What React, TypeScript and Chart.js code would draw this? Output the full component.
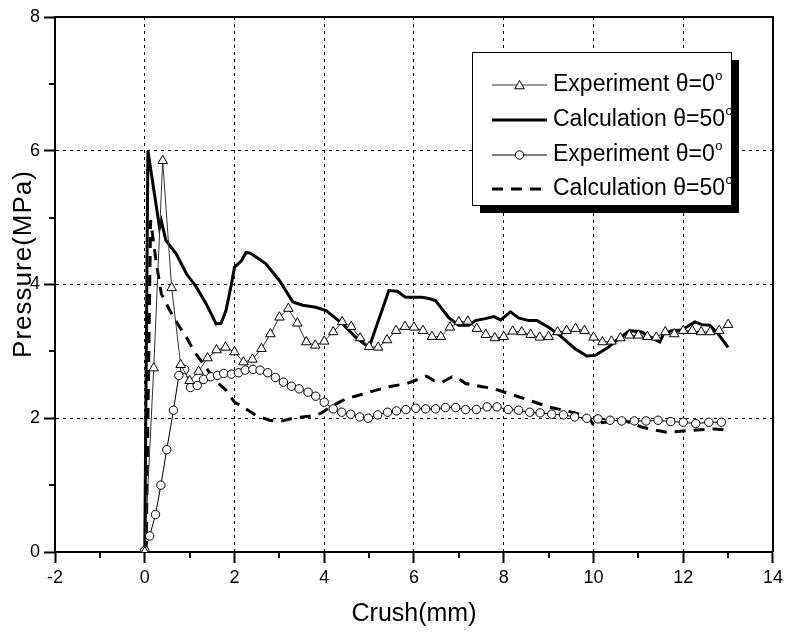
import React, { useEffect, useRef } from "react";
import { Chart, registerables } from "chart.js";

Chart.register(...registerables);

// ---------------- data ----------------
const EXP_TRI_X = [
  0, 0.2, 0.4, 0.6, 0.8, 1.0, 1.2, 1.4, 1.6, 1.8, 2.0, 2.2, 2.4, 2.6, 2.8, 3.0, 3.2, 3.4, 3.6, 3.8,
  4.0, 4.2, 4.4, 4.6, 4.8, 5.0, 5.2, 5.4, 5.6, 5.8, 6.0, 6.2, 6.4, 6.6, 6.8, 7.0, 7.2, 7.4, 7.6, 7.8,
  8.0, 8.2, 8.4, 8.6, 8.8, 9.0, 9.2, 9.4, 9.6, 9.8, 10.0, 10.2, 10.4, 10.6, 10.8, 11.0, 11.2, 11.4,
  11.6, 11.8, 12.0, 12.2, 12.4, 12.6, 12.8, 13.0,
];
const EXP_TRI_Y = [
  0, 2.75, 5.85, 3.95, 2.8, 2.56, 2.7, 2.9, 3.02, 3.06, 2.99, 2.84, 2.88, 3.04, 3.26, 3.51, 3.64, 3.42, 3.14, 3.09,
  3.15, 3.29, 3.44, 3.37, 3.2, 3.07, 3.06, 3.17, 3.31, 3.37, 3.36, 3.31, 3.22, 3.22, 3.36, 3.44, 3.45, 3.34, 3.25, 3.2,
  3.22, 3.3, 3.29, 3.25, 3.21, 3.22, 3.29, 3.31, 3.34, 3.31, 3.21, 3.14, 3.15, 3.2, 3.24, 3.24, 3.22, 3.21,
  3.29, 3.26, 3.31, 3.31, 3.29, 3.29, 3.31, 3.4,
];

const CALC_SOLID_X = [
  0, 0.07, 0.33, 0.37, 0.47, 0.7, 0.93, 1.15, 1.37, 1.59, 1.7, 1.81, 1.93, 2.0, 2.15, 2.26, 2.35, 2.48, 2.7, 3.0,
  3.3, 3.52, 3.81, 4.04, 4.41, 4.7, 5.0, 5.44, 5.63, 5.81, 6.18, 6.33, 6.48, 6.78, 7.0, 7.22, 7.37, 7.59, 7.78, 7.93,
  8.15, 8.33, 8.56, 8.74, 9.0, 9.3, 9.59, 9.85, 10.04, 10.33, 10.56, 10.81, 11.07, 11.33, 11.48, 11.56, 11.74, 11.96,
  12.26, 12.41, 12.59, 12.78, 13.0,
];
const CALC_SOLID_Y = [
  0, 6.0, 4.85, 4.95, 4.66, 4.46, 4.16, 3.96, 3.71, 3.41, 3.42, 3.61, 4.0, 4.26, 4.35, 4.48, 4.47, 4.41, 4.31, 4.06,
  3.74, 3.69, 3.66, 3.61, 3.41, 3.21, 3.06, 3.91, 3.9, 3.81, 3.81, 3.79, 3.76, 3.5, 3.39, 3.39, 3.46, 3.49, 3.52, 3.47,
  3.59, 3.5, 3.46, 3.46, 3.36, 3.21, 3.04, 2.93, 2.94, 3.06, 3.19, 3.31, 3.29, 3.19, 3.14, 3.26, 3.31, 3.32,
  3.44, 3.4, 3.39, 3.26, 3.06,
];

const EXP_CIRC_X = [
  0, 0.11, 0.24, 0.36, 0.49, 0.64, 0.76, 0.89, 1.02, 1.17, 1.31, 1.47, 1.62, 1.76, 1.93, 2.09, 2.24, 2.41, 2.57, 2.74,
  2.91, 3.09, 3.27, 3.44, 3.64, 3.81, 4.0, 4.2, 4.39, 4.59, 4.79, 4.98, 5.19, 5.41, 5.61, 5.82, 6.04, 6.26, 6.48, 6.7,
  6.93, 7.15, 7.39, 7.63, 7.85, 8.1, 8.33, 8.58, 8.81, 9.07, 9.33, 9.58, 9.85, 10.1, 10.37, 10.63, 10.91, 11.17, 11.44,
  11.72, 12.0, 12.28, 12.57, 12.85,
];
const EXP_CIRC_Y = [
  0.02, 0.24, 0.56, 1.0, 1.53, 2.12, 2.64, 2.73, 2.46, 2.49, 2.58, 2.62, 2.64, 2.67, 2.66, 2.68, 2.72, 2.73, 2.72, 2.68,
  2.61, 2.54, 2.48, 2.44, 2.39, 2.33, 2.24, 2.14, 2.09, 2.06, 2.02, 2.0, 2.05, 2.09, 2.11, 2.13, 2.15, 2.14, 2.14, 2.16,
  2.16, 2.13, 2.13, 2.17, 2.17, 2.13, 2.12, 2.09, 2.08, 2.06, 2.05, 2.02, 2.0, 1.99, 1.97, 1.96, 1.96, 1.96, 1.97,
  1.95, 1.94, 1.92, 1.94, 1.94,
];

const CALC_DASH_X = [
  0.03, 0.13, 0.26, 0.37, 0.56, 0.78, 0.93, 1.11, 1.3, 1.56, 1.81, 2.0, 2.26, 2.48, 2.78, 3.0, 3.3, 3.52, 3.81, 3.96,
  4.19, 4.48, 4.75, 5.1, 5.44, 5.85, 6.28, 6.45, 6.63, 6.85, 7.0, 7.15, 7.52, 7.74, 8.11, 8.56, 9.0, 9.59, 9.89, 10.0,
  10.1, 10.26, 10.63, 11.07, 11.4, 11.63, 12.19, 12.71, 13.0,
];
const CALC_DASH_Y = [
  0, 4.96, 4.31, 3.86, 3.61, 3.36, 3.21, 2.99, 2.82, 2.57, 2.42, 2.24, 2.14, 2.04, 1.97, 1.95, 2.0, 2.02, 2.04, 2.09,
  2.19, 2.29, 2.34, 2.41, 2.47, 2.52, 2.63, 2.56, 2.54, 2.62, 2.59, 2.52, 2.47, 2.45, 2.37, 2.27, 2.17, 2.08, 2.02, 1.9,
  1.93, 1.94, 1.98, 1.87, 1.82, 1.79, 1.82, 1.84, 1.82,
];

const SERIES_LABELS = ["Experiment θ=0°", "Calculation θ=50°", "Experiment θ=0°", "Calculation θ=50°"];
const X_TITLE = "Crush(mm)";
const Y_TITLE = "Pressure(MPa)";
const X_MIN = -2;
const X_MAX = 14;
const X_STEP = 2;
const Y_MIN = 0;
const Y_MAX = 8;
const Y_STEP = 2;
const X_MINOR = [-1, 1, 3, 5, 7, 9, 11, 13];
const Y_MINOR = [1, 3, 5, 7];

const FONT = "'Liberation Sans', Arial, Helvetica, sans-serif";

const toPts = (xs: number[], ys: number[]) => xs.map((x, i) => ({ x, y: ys[i] }));

function drawTriangle(ctx: CanvasRenderingContext2D, x: number, y: number, r: number) {
  ctx.beginPath();
  let a = 0;
  ctx.moveTo(x + Math.sin(a) * r, y - Math.cos(a) * r);
  a += (2 * Math.PI) / 3;
  ctx.lineTo(x + Math.sin(a) * r, y - Math.cos(a) * r);
  a += (2 * Math.PI) / 3;
  ctx.lineTo(x + Math.sin(a) * r, y - Math.cos(a) * r);
  ctx.closePath();
  ctx.fill();
  ctx.stroke();
}

const decorPlugin = {
  id: "decor",
  afterDraw(chart: any) {
    const { ctx, chartArea: ca, scales } = chart;
    const xs = scales.x;
    const ys = scales.y;
    ctx.save();
    ctx.strokeStyle = "#000";
    ctx.lineWidth = 2;
    ctx.setLineDash([]);
    // top / right frame
    ctx.beginPath();
    ctx.moveTo(ca.left - 1, ca.top);
    ctx.lineTo(ca.right, ca.top);
    ctx.lineTo(ca.right, ca.bottom);
    ctx.stroke();
    // minor ticks
    ctx.beginPath();
    X_MINOR.forEach((v) => {
      const p = Math.round(xs.getPixelForValue(v));
      ctx.moveTo(p, ca.bottom);
      ctx.lineTo(p, ca.bottom + 6);
    });
    Y_MINOR.forEach((v) => {
      const p = Math.round(ys.getPixelForValue(v));
      ctx.moveTo(ca.left - 6, p);
      ctx.lineTo(ca.left, p);
    });
    ctx.stroke();

    // axis titles
    ctx.fillStyle = "#000";
    ctx.textAlign = "center";
    ctx.textBaseline = "middle";
    ctx.font = `25px ${FONT}`;
    ctx.fillText(X_TITLE, (ca.left + ca.right) / 2, 614);
    ctx.save();
    ctx.translate(24, 264);
    ctx.rotate(-Math.PI / 2);
    ctx.font = `26px ${FONT}`;
    try {
      (ctx as any).letterSpacing = "1px";
    } catch (e) {}
    ctx.fillText(Y_TITLE, 0, 0);
    ctx.restore();

    // legend
    const bx = 472, by = 52, bw = 259, bh = 153;
    ctx.fillStyle = "#000";
    ctx.fillRect(bx + 8, by + 8, bw, bh);
    ctx.fillStyle = "#fff";
    ctx.fillRect(bx, by, bw, bh);
    ctx.lineWidth = 1;
    ctx.strokeStyle = "#000";
    ctx.strokeRect(bx + 0.5, by + 0.5, bw, bh);

    const rows = [85, 120, 155, 189];
    const x0 = 492, x1 = 547, tx = 553;
    chart.data.datasets.forEach((ds: any, i: number) => {
      const y = rows[i];
      ctx.save();
      ctx.strokeStyle = ds.borderColor;
      ctx.lineWidth = ds.borderWidth;
      ctx.setLineDash(ds.borderDash || []);
      ctx.beginPath();
      ctx.moveTo(x0, y);
      ctx.lineTo(x1, y);
      ctx.stroke();
      ctx.setLineDash([]);
      ctx.lineWidth = 1;
      ctx.strokeStyle = "#000";
      ctx.fillStyle = "#fff";
      const cx = (x0 + x1) / 2;
      if (ds.pointStyle === "triangle") {
        drawTriangle(ctx, cx, y + 1, ds.pointRadius);
      } else if (ds.pointRadius > 0) {
        ctx.beginPath();
        ctx.arc(cx, y, ds.pointRadius, 0, Math.PI * 2);
        ctx.fill();
        ctx.stroke();
      }
      ctx.restore();

      const label: string = ds.label;
      const hasDeg = label.endsWith("°");
      const base = hasDeg ? label.slice(0, -1) : label;
      ctx.fillStyle = "#000";
      ctx.textAlign = "left";
      ctx.textBaseline = "middle";
      ctx.font = `23px ${FONT}`;
      ctx.fillText(base, tx, y);
      if (hasDeg) {
        const w = ctx.measureText(base).width;
        ctx.font = `13px ${FONT}`;
        ctx.fillText("o", tx + w + 0.5, y - 9);
      }
    });
    ctx.restore();
  },
};

export default function App() {
  const ref = useRef<HTMLCanvasElement | null>(null);

  useEffect(() => {
    if (!ref.current) return;
    const chart = new Chart(ref.current, {
      type: "line",
      data: {
        datasets: [
          {
            label: SERIES_LABELS[0],
            data: toPts(EXP_TRI_X, EXP_TRI_Y),
            borderColor: "#333",
            borderWidth: 1,
            pointStyle: "triangle",
            pointRadius: 5.5,
            pointBorderWidth: 1,
            pointBorderColor: "#000",
            pointBackgroundColor: "#fff",
            tension: 0,
            order: 1,
          },
          {
            label: SERIES_LABELS[1],
            data: toPts(CALC_SOLID_X, CALC_SOLID_Y),
            borderColor: "#000",
            borderWidth: 3,
            pointRadius: 0,
            tension: 0,
            order: 3,
          },
          {
            label: SERIES_LABELS[2],
            data: toPts(EXP_CIRC_X, EXP_CIRC_Y),
            borderColor: "#000",
            borderWidth: 1,
            pointStyle: "circle",
            pointRadius: 4.2,
            pointBorderWidth: 1,
            pointBorderColor: "#000",
            pointBackgroundColor: "#fff",
            tension: 0,
            order: 2,
          },
          {
            label: SERIES_LABELS[3],
            data: toPts(CALC_DASH_X, CALC_DASH_Y),
            borderColor: "#000",
            borderWidth: 3,
            borderDash: [11, 8],
            pointRadius: 0,
            tension: 0,
            order: 4,
          },
        ],
      },
      options: {
        responsive: false,
        maintainAspectRatio: false,
        animation: false,
        devicePixelRatio: 1,
        layout: { padding: { left: 0, top: 17, right: 14, bottom: 0 } },
        plugins: {
          legend: { display: false },
          tooltip: { enabled: false },
          title: { display: false },
        },
        scales: {
          x: {
            type: "linear",
            min: X_MIN,
            max: X_MAX,
            ticks: {
              stepSize: X_STEP,
              color: "#000",
              font: { family: FONT, size: 18 },
              padding: 4,
              maxRotation: 0,
            },
            grid: {
              color: "#000",
              lineWidth: 1,
              tickLength: 11,
              tickWidth: 2,
              tickColor: "#000",
            },
            border: { display: true, color: "#000", width: 2, dash: [3, 4] },
            title: { display: false },
            afterFit: (s: any) => {
              s.height = 83;
            },
          },
          y: {
            type: "linear",
            min: Y_MIN,
            max: Y_MAX,
            ticks: {
              stepSize: Y_STEP,
              color: "#000",
              font: { family: FONT, size: 18 },
              padding: 4,
            },
            grid: {
              color: "#000",
              lineWidth: 1,
              tickLength: 11,
              tickWidth: 2,
              tickColor: "#000",
            },
            border: { display: true, color: "#000", width: 2, dash: [3, 4] },
            title: { display: false },
            afterFit: (s: any) => {
              s.width = 55;
            },
          },
        },
      },
      plugins: [decorPlugin],
    } as any);
    return () => chart.destroy();
  }, []);

  return (
    <div style={{ position: "fixed", left: 0, top: 0, width: 787, height: 635, background: "#fff" }}>
      <canvas ref={ref} width={787} height={635} style={{ display: "block", width: 787, height: 635 }} />
    </div>
  );
}
